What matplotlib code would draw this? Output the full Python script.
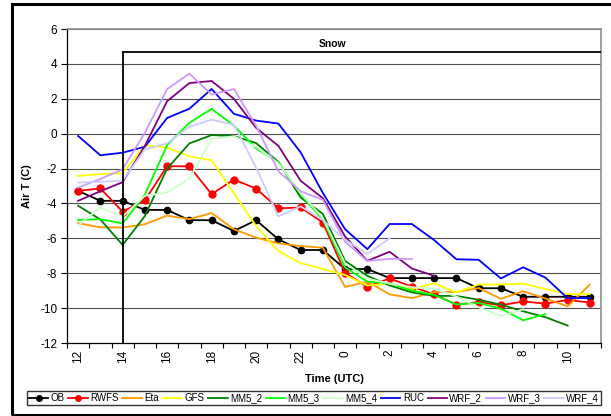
import numpy as np
import matplotlib
matplotlib.use("Agg")
import matplotlib.pyplot as plt
from matplotlib.patches import Rectangle

plt.rcParams['font.family'] = ['Liberation Sans', 'DejaVu Sans']

nan = np.nan
hours = ['12', '13', '14', '15', '16', '17', '18', '19', '20', '21', '22', '23',
         '0', '1', '2', '3', '4', '5', '6', '7', '8', '9', '10', '11']

OB = [-3.28, -3.85, -3.85, -4.37, -4.37, -4.96, -4.96, -5.58, -4.96, -6.06, -6.67, -6.67,
      -7.76, -7.76, -8.28, -8.28, -8.28, -8.28, -8.86, -8.86, -9.35, -9.35, -9.35, -9.35]
RWFS = [-3.28, -3.14, -4.47, -3.82, -1.87, -1.87, -3.47, -2.63, -3.15, -4.28, -4.23, -5.10,
        -7.98, -8.77, -8.30, -8.77, -9.21, -9.80, -9.65, -9.84, -9.62, -9.74, -9.54, -9.68]
Eta = [-5.13, -5.37, -5.38, -5.19, -4.70, -4.90, -4.55, -5.48, -5.96, -6.29, -6.44, -6.54,
       -8.79, -8.48, -9.21, -9.43, -9.08, -9.08, -8.85, -9.47, -9.03, -9.45, -9.90, -8.65]
GFS = [-2.42, -2.32, -2.27, -0.65, -0.80, -1.30, -1.53, -3.42, -5.29, -6.73, -7.42, -7.75,
       -8.10, -8.70, -8.60, -8.92, -8.58, -9.10, -8.65, -8.65, -8.60, -8.90, -9.20, -9.20]
MM5_2 = [-4.13, -4.92, -6.38, -4.72, -2.00, -0.56, -0.08, -0.14, -0.54, -1.62, -3.66, -4.60,
         -7.30, -8.15, -8.70, -9.10, -9.30, -9.30, -9.52, -9.80, -10.18, -10.52, -11.00, nan]
MM5_3 = [-4.95, -4.90, -5.15, -3.50, -0.65, 0.62, 1.42, 0.47, -0.85, -1.65, -3.47, -4.95,
         -7.67, -8.48, -8.57, -9.00, -9.24, -9.79, -9.70, -10.03, -10.70, -10.35, nan, nan]
MM5_4 = [-5.26, -4.23, -4.75, -3.56, -3.38, -2.57, -0.30, -0.15, -0.76, -1.70, -3.40, -4.85,
         -7.43, -8.30, -8.60, -8.80, -8.90, -9.33, -9.95, -10.45, -10.07, nan, nan, nan]
RUC = [-0.13, -1.24, -1.09, -0.75, 0.90, 1.43, 2.56, 1.14, 0.75, 0.58, -1.07, -3.40,
       -5.48, -6.62, -5.18, -5.18, -6.10, -7.20, -7.23, -8.30, -7.66, -8.25, -9.43, -9.43]
WRF_2 = [-3.85, -3.30, -2.78, -0.70, 1.86, 2.90, 3.02, 2.00, 0.33, -0.70, -2.70, -3.70,
         -5.90, -7.29, -6.77, -7.73, -8.15, nan, nan, nan, nan, nan, nan, nan]
WRF_3 = [-3.09, -2.60, -2.04, 0.05, 2.56, 3.44, 2.24, 2.56, 0.45, -2.15, -3.30, -3.80,
         -6.20, -7.30, -7.18, -7.18, nan, nan, nan, nan, nan, nan, nan, nan]
WRF_4 = [-2.80, -2.76, -2.70, -0.90, -0.55, 0.40, 0.80, 0.52, -1.95, -4.74, -4.17, -4.95,
         -6.08, -6.90, -6.00, nan, nan, nan, nan, nan, nan, nan, nan, nan]

series_names = ['OB', 'RWFS', 'Eta', 'GFS', 'MM5_2', 'MM5_3', 'MM5_4', 'RUC', 'WRF_2', 'WRF_3', 'WRF_4']
series_vals = [OB, RWFS, Eta, GFS, MM5_2, MM5_3, MM5_4, RUC, WRF_2, WRF_3, WRF_4]
colors = ['#000000', '#ff0000', '#ff9900', '#ffff00', '#008000', '#00ff00', '#ccffcc',
          '#0000ff', '#800080', '#cc99ff', '#ccccff']
markers = ['o', 'o', None, None, None, None, None, None, None, None, None]
msizes = [4.5, 5.0, 0, 0, 0, 0, 0, 0, 0, 0, 0]

snow_start = 2      # index of hour "14"
snow_level = 4.7
snow_label = 'Snow'

W, H = 611, 416
fig = plt.figure(figsize=(W / 100, H / 100), dpi=100)
ax = fig.add_axes([67 / W, 1 - 343 / H, (601 - 67) / W, (343 - 29) / H])

x = np.arange(len(hours))
handles = []
for name, vals, c, m, ms in zip(series_names, series_vals, colors, markers, msizes):
    ln, = ax.plot(x, vals, color=c, lw=1.3, marker=m, markersize=ms,
                  markeredgecolor=c, markerfacecolor=c, label=name, zorder=3)
    handles.append(ln)

# snow period box
ax.plot([snow_start, snow_start], [-12, snow_level], color='black', lw=1.3, zorder=4)
ax.plot([snow_start, len(hours) - 0.5], [snow_level, snow_level], color='black', lw=1.3, zorder=4)
ax.text(11.45, 5.12, snow_label, fontsize=7.5, fontweight='bold', ha='center', va='center')

ax.set_xlim(-0.5, len(hours) - 0.5)
ax.set_ylim(-12, 6)
ax.set_yticks(np.arange(-12, 7, 2))
ax.set_yticklabels([str(v) for v in range(-12, 7, 2)], fontsize=8.5)
ax.tick_params(axis='y', direction='out', length=4, width=0.8, pad=3)
for yv in np.arange(-10, 7, 2):
    ax.axhline(yv, color='#505050', lw=0.8, zorder=1)

# x: ticks between categories, labels on even categories
ax.set_xticks(np.arange(-0.5, len(hours), 1.0))
ax.set_xticklabels([])
ax.tick_params(axis='x', which='major', direction='out', length=3.5, width=0.8)
ax.set_xticks(x[::2], minor=True)
ax.set_xticklabels(hours[::2], minor=True, rotation=90, fontsize=8.5)
ax.tick_params(axis='x', which='minor', length=0, pad=5)

for s in ['left', 'bottom']:
    ax.spines[s].set_color('black')
    ax.spines[s].set_linewidth(0.9)
for s in ['top', 'right']:
    ax.spines[s].set_color('#909090')
    ax.spines[s].set_linewidth(1.2)

ax.set_ylabel('Air T (C)', fontsize=8, fontweight='bold')
ax.yaxis.set_label_coords((32 - 67) / 534, 0.5)
ax.set_xlabel('Time (UTC)', fontsize=8, fontweight='bold')
ax.xaxis.set_label_coords(0.5, -(374 - 343) / 314)
ax.xaxis.label.set_va('top')

leg = fig.legend(handles=handles, labels=series_names, loc='lower left',
                 bbox_to_anchor=(27 / W, 1 - 405 / H, (601 - 27) / W, 13 / H),
                 mode='expand', ncol=11, fontsize=7, frameon=True, fancybox=False,
                 edgecolor='black', borderpad=0.2, handlelength=2.0, handletextpad=0.25,
                 columnspacing=0.3, borderaxespad=0)
leg.get_frame().set_linewidth(1.0)
for lh in leg.legend_handles:
    lh.set_markersize(4)

# outer frame
fig.patches.append(Rectangle((11.5 / W, 1 - 414.5 / H), (700 - 11.5) / W, (414.5 - 3.5) / H,
                             transform=fig.transFigure, fill=False, lw=2.2, ec='black'))

fig.savefig('out.png', dpi=100)
